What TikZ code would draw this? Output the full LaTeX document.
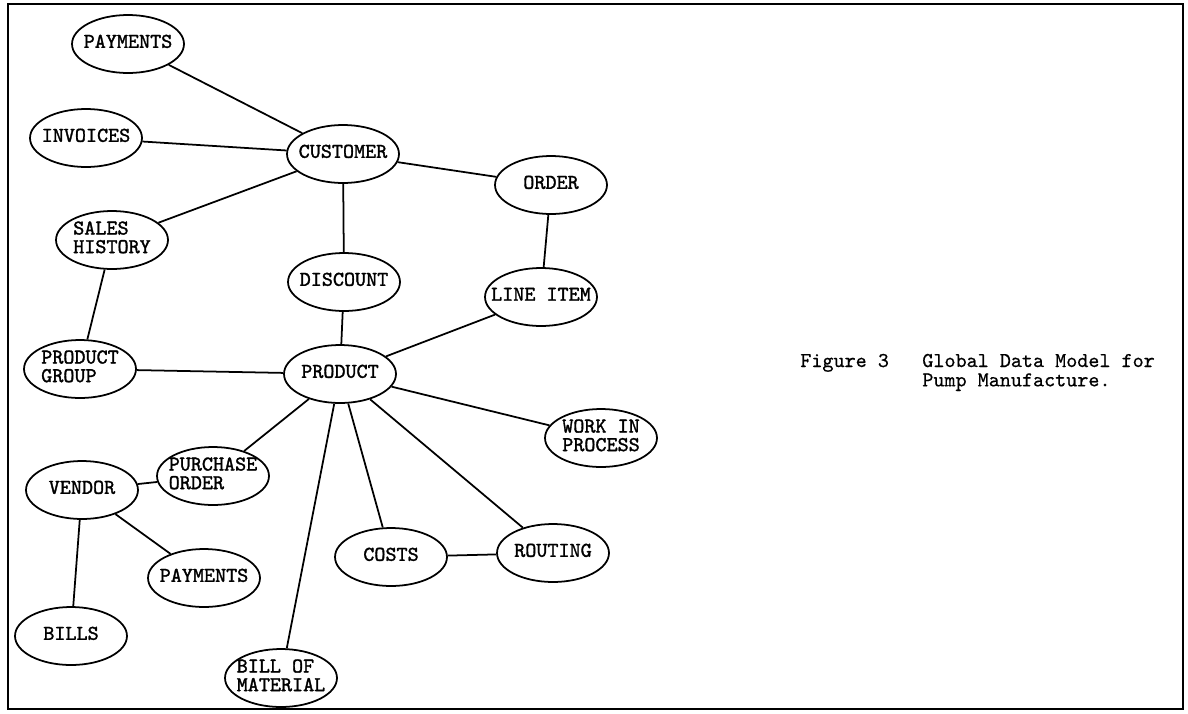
\documentclass[tikz,border=0pt]{standalone}
\usepackage{fontspec}
\newfontfamily\typebold[FakeBold=1.5]{lmmono10-regular.otf}
\newfontfamily\typecap[FakeBold=0.6]{lmmono10-regular.otf}
\usetikzlibrary{shapes.geometric}

% label set in a box of no width, so the ellipse keeps its own size
\newcommand{\ent}[1]{\makebox[0pt]{\begin{tabular}{@{}l@{}}#1\end{tabular}}}

\begin{document}
\begin{tikzpicture}[x=0.02cm, y=-0.02cm,
        entity/.style={ellipse, draw, line width=1pt, minimum width=2.24cm, minimum height=1.16cm,
            inner sep=0pt, font=\typebold\fontsize{12}{10.4}\selectfont},
        link/.style={line width=1pt},
        caption/.style={inner sep=0pt, font=\typecap\fontsize{12}{11}\selectfont}]

        \useasboundingbox (0,0) rectangle (1188,714);
        \draw[line width=1.2pt] (8,4) rectangle (1183,709);

        % Customer side
        \node[entity] (pay1) at (128,44) {\ent{PAYMENTS}};
        \node[entity] (inv) at (86,138) {\ent{INVOICES}};
        \node[entity] (cust) at (343,154) {\ent{CUSTOMER}};
        \node[entity] (order) at (551,185) {\ent{ORDER}};
        \node[entity] (sales) at (112,240) {\ent{SALES\\HISTORY}};
        \node[entity] (disc) at (344,282) {\ent{DISCOUNT}};
        \node[entity] (item) at (541,297) {\ent{LINE ITEM}};

        \draw[link] (pay1) -- (cust);
        \draw[link] (inv) -- (cust);
        \draw[link] (sales) -- (cust);
        \draw[link] (cust) -- (order);
        \draw[link] (cust) -- (disc);
        \draw[link] (order) -- (item);

        % Product
        \node[entity] (pgroup) at (80,369) {\ent{PRODUCT\\GROUP}};
        \node[entity] (prod) at (340,374) {\ent{PRODUCT}};
        \node[entity] (wip) at (601,438) {\ent{WORK IN\\PROCESS}};
        \node[entity] (porder) at (213,476) {\ent{PURCHASE\\ORDER}};
        \node[entity] (costs) at (391,557) {\ent{COSTS}};
        \node[entity] (routing) at (553,553) {\ent{ROUTING}};
        \node[entity] (bom) at (281,678) {\ent{BILL OF\\MATERIAL}};

        \draw[link] (sales) -- (pgroup);
        \draw[link] (disc) -- (prod);
        \draw[link] (item) -- (prod);
        \draw[link] (pgroup) -- (prod);
        \draw[link] (prod) -- (wip);
        \draw[link] (prod) -- (porder);
        \draw[link] (prod) -- (bom);
        \draw[link] (prod) -- (costs);
        \draw[link] (prod) -- (routing);
        \draw[link] (costs) -- (routing);

        % Vendor
        \node[entity] (vendor) at (82,490) {\ent{VENDOR}};
        \node[entity] (pay2) at (204,578) {\ent{PAYMENTS}};
        \node[entity] (bills) at (71,636) {\ent{BILLS}};

        \draw[link] (vendor) -- (porder);
        \draw[link] (vendor) -- (pay2);
        \draw[link] (vendor) -- (bills);

        % Caption
        \node[caption, anchor=base west] (fig) at (800,367) {Figure 3};
        \node[caption, anchor=base west] (title) at (922,367)
            {\begin{tabular}[t]{@{}l@{}}Global Data Model for\\Pump Manufacture.\end{tabular}};
    \end{tikzpicture}
\end{document}
